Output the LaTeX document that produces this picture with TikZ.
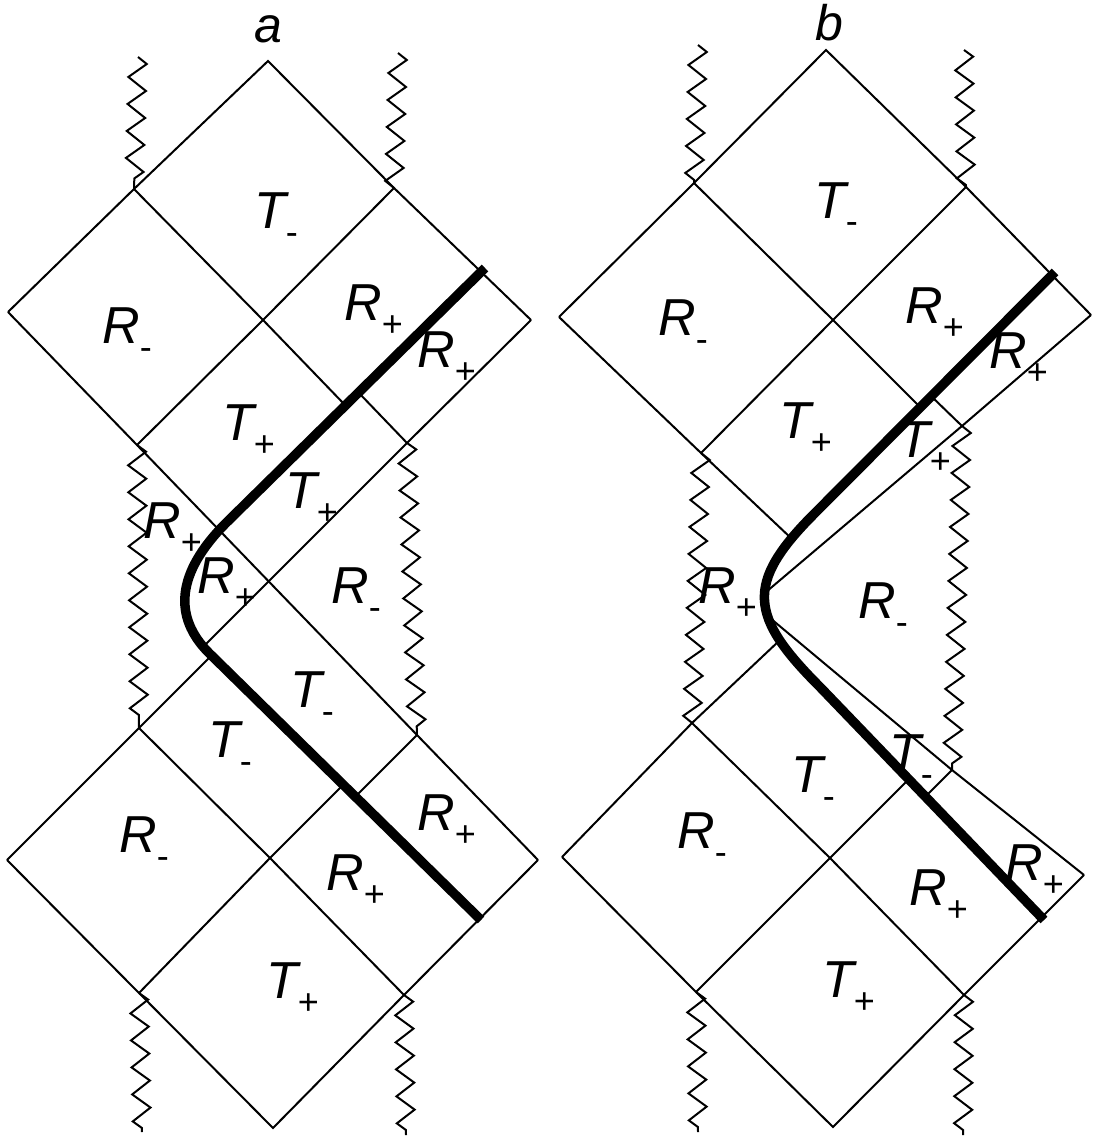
\documentclass[tikz,border=0pt]{standalone}
\usepackage{fontspec}
\setmainfont{Liberation Sans}
\usetikzlibrary{decorations.pathmorphing}
\newcommand{\lbl}[2]{\fontsize{52}{52}\selectfont\itshape #1\upshape\raisebox{-16pt}{\fontsize{36}{36}\selectfont #2}}
\begin{document}
\begin{tikzpicture}[x=1pt,y=-1pt,
  ln/.style={line width=2pt},
  zz/.style={line width=2pt, decorate, decoration={zigzag, segment length=27pt, amplitude=9pt}},
  shell/.style={line width=9.5pt},
  lab/.style={anchor=base west, inner sep=0pt},
  ttl/.style={anchor=base, inner sep=0pt, font=\fontsize{50}{50}\selectfont\itshape}]
\useasboundingbox (0,0) rectangle (1092,1142);
% ---------------- panel a ----------------
\coordinate (aA) at (268,61);
\coordinate (aL1) at (134,189);
\coordinate (aR1) at (394,188);
\coordinate (aFL) at (8,312);
\coordinate (aC1) at (263,320);
\coordinate (aFR) at (531,320);
\coordinate (aL2) at (137,445);
\coordinate (aB1) at (407,443);
\coordinate (aTT) at (485,268);
\coordinate (aK1) at (226,523);
\coordinate (aK2) at (209,653);
\coordinate (aTB) at (481,920);
\coordinate (aS3e) at (345,405);
\coordinate (aS7s) at (358,392);
\coordinate (aS6e) at (204,646);
\coordinate (aS8e) at (211,656);
\coordinate (aJ) at (417,735);
\coordinate (aFL3) at (7,860);
\coordinate (aFR3) at (538,860);
\coordinate (aL3) at (139,728);
\coordinate (aC3) at (270,858);
\coordinate (aR4) at (404,995);
\coordinate (aL4) at (139,993);
\coordinate (aZ) at (273,1128);
\coordinate (aS12e) at (343,785);
\coordinate (aS13s) at (355,797);
\coordinate (aZ1) at (138,57);
\coordinate (aZ2) at (398,53);
\coordinate (aZ3) at (142,1132);
\coordinate (aZ4) at (406,1135);

\draw[ln] (aFL) -- (aL1) -- (aA) -- (aR1) -- (aFR);
\draw[ln] (aL1) -- (aC1) -- (aS3e);
\draw[ln] (aR1) -- (aC1) -- (aL2);
\draw[ln] (aFL) -- (aL2) -- (aJ) -- (aFR3);
\draw[ln] (aFR) -- (aB1) -- (aS6e);
\draw[ln] (aS7s) -- (aB1);
\draw[ln] (aFL3) -- (aL3) -- (aS8e);
\draw[ln] (aL3) -- (aC3) -- (aR4);
\draw[ln] (aFL3) -- (aL4) -- (aZ) -- (aR4) -- (aFR3);
\draw[ln] (aC3) -- (aL4);
\draw[ln] (aC3) -- (aS12e);
\draw[ln] (aS13s) -- (aJ);
\draw[zz] (aZ1) -- (aL1);
\draw[zz] (aZ2) -- (aR1);
\draw[zz] (aL2) -- (aL3);
\draw[zz] (aB1) -- (aJ);
\draw[zz] (aL4) -- (aZ3);
\draw[zz] (aR4) -- (aZ4);
\draw[shell] (aTT) -- (aK1) .. controls (176,573) and (173,617) .. (aK2) -- (aTB);

\node[ttl] (ta) at (268,43) {a};
\node[lab] (a1) at (254,228) {\lbl{T}{-}};
\node[lab] (a2) at (102,343) {\lbl{R}{-}};
\node[lab] (a3) at (344,320) {\lbl{R}{+}};
\node[lab] (a4) at (417,367) {\lbl{R}{+}};
\node[lab] (a5) at (222,440) {\lbl{T}{+}};
\node[lab] (a6) at (285,508) {\lbl{T}{+}};
\node[lab] (a7) at (143,538) {\lbl{R}{+}};
\node[lab] (a8) at (197,593) {\lbl{R}{+}};
\node[lab] (a9) at (331,603) {\lbl{R}{-}};
\node[lab] (a10) at (290,707) {\lbl{T}{-}};
\node[lab] (a11) at (208,757) {\lbl{T}{-}};
\node[lab] (a12) at (119,852) {\lbl{R}{-}};
\node[lab] (a13) at (417,830) {\lbl{R}{+}};
\node[lab] (a14) at (326,890) {\lbl{R}{+}};
\node[lab] (a15) at (266,998) {\lbl{T}{+}};

% ---------------- panel b ----------------
\coordinate (bA) at (826,50);
\coordinate (bL1) at (694,183);
\coordinate (bR1) at (966,187);
\coordinate (bFL) at (559,317);
\coordinate (bC1) at (833,320);
\coordinate (bFR) at (1091,315);
\coordinate (bL2) at (701,453);
\coordinate (bB1) at (962,426);
\coordinate (bTT) at (1055,272);
\coordinate (bK1) at (814,514);
\coordinate (bK2) at (820,687);
\coordinate (bTB) at (1044,920);
\coordinate (bS3e) at (920,407);
\coordinate (bS7s) at (931,396);
\coordinate (bS5e) at (792,539);
\coordinate (bS6e) at (766,592);
\coordinate (bS15s) at (770,618);
\coordinate (bS8e) at (780,640);
\coordinate (bJ) at (952,770);
\coordinate (bFL3) at (562,857);
\coordinate (bFR3) at (1084,875);
\coordinate (bL3) at (692,723);
\coordinate (bC3) at (830,858);
\coordinate (bR4) at (964,995);
\coordinate (bL4) at (696,992);
\coordinate (bZ) at (833,1127);
\coordinate (bS12e) at (907,781);
\coordinate (bS13s) at (925,797);
\coordinate (bZ1) at (698,45);
\coordinate (bZ2) at (964,50);
\coordinate (bZ3) at (698,1132);
\coordinate (bZ4) at (963,1135);

\draw[ln] (bFL) -- (bL1) -- (bA) -- (bR1) -- (bFR);
\draw[ln] (bL1) -- (bC1) -- (bS3e);
\draw[ln] (bR1) -- (bC1) -- (bL2);
\draw[ln] (bFL) -- (bL2) -- (bS5e);
\draw[ln] (bFR) -- (bB1) -- (bS6e);
\draw[ln] (bS7s) -- (bB1);
\draw[ln] (bS15s) -- (bJ) -- (bFR3);
\draw[ln] (bS13s) -- (bJ);
\draw[ln] (bFL3) -- (bL3) -- (bS8e);
\draw[ln] (bL3) -- (bC3) -- (bR4);
\draw[ln] (bFL3) -- (bL4) -- (bZ) -- (bR4) -- (bFR3);
\draw[ln] (bC3) -- (bL4);
\draw[ln] (bC3) -- (bS12e);
\draw[zz] (bZ1) -- (bL1);
\draw[zz] (bZ2) -- (bR1);
\draw[zz] (bL2) -- (bL3);
\draw[zz] (bB1) -- (bJ);
\draw[zz] (bL4) -- (bZ3);
\draw[zz] (bR4) -- (bZ4);
\draw[shell] (bTT) -- (bK1) .. controls (744,584) and (750,617) .. (bK2) -- (bTB);

\node[ttl] (tb) at (829,41) {b};
\node[lab] (b1) at (814,218) {\lbl{T}{-}};
\node[lab] (b2) at (658,335) {\lbl{R}{-}};
\node[lab] (b3) at (905,323) {\lbl{R}{+}};
\node[lab] (b4) at (989,368) {\lbl{R}{+}};
\node[lab] (b5) at (779,438) {\lbl{T}{+}};
\node[lab] (b6) at (898,457) {\lbl{T}{+}};
\node[lab] (b7) at (698,603) {\lbl{R}{+}};
\node[lab] (b8) at (858,618) {\lbl{R}{-}};
\node[lab] (b9) at (889,770) {\lbl{T}{-}};
\node[lab] (b10) at (791,792) {\lbl{T}{-}};
\node[lab] (b11) at (677,848) {\lbl{R}{-}};
\node[lab] (b12) at (909,905) {\lbl{R}{+}};
\node[lab] (b13) at (1005,880) {\lbl{R}{+}};
\node[lab] (b14) at (822,997) {\lbl{T}{+}};
\end{tikzpicture}
\end{document}
